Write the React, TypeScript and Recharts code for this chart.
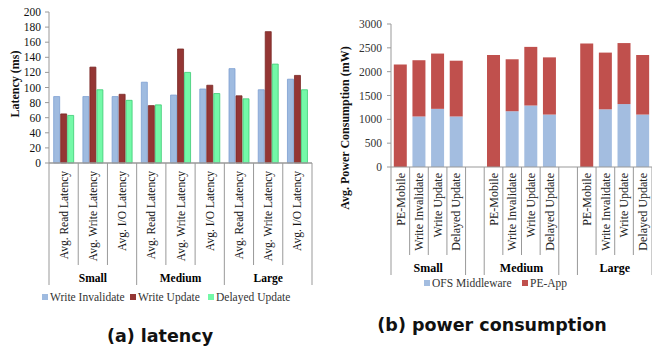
import React from "react";
import { BarChart, Bar, XAxis, YAxis, Label } from "recharts";

const FILE_SIZES = ["Small", "Medium", "Large"];

// (a) latency, ms
const LATENCY_METRICS = ["Avg. Read Latency", "Avg. Write Latency", "Avg. I/O Latency"];
const WRITE_INVALIDATE = [88, 88, 88, 107, 90, 98, 125, 97, 111];
const WRITE_UPDATE = [65, 127, 91, 76, 151, 103, 89, 174, 116];
const DELAYED_UPDATE = [63, 97, 83, 77, 120, 92, 85, 131, 97];
const LATENCY_TICKS = [0, 20, 40, 60, 80, 100, 120, 140, 160, 180, 200];

// (b) power consumption, mW
const POWER_SCHEMES = ["PE-Mobile", "Write Invalidate", "Write Update", "Delayed Update"];
const OFS_MIDDLEWARE = [0, 1060, 1220, 1060, 0, 1170, 1290, 1100, 0, 1210, 1320, 1100];
const PE_APP = [2150, 1180, 1160, 1170, 2350, 1090, 1230, 1200, 2590, 1190, 1280, 1250];
const POWER_TICKS = [0, 500, 1000, 1500, 2000, 2500, 3000];

const SERIF = "'Liberation Serif', 'Times New Roman', serif";
const AXIS_GREY = "#999999";

type Row = { key: string; size: string; label: string; [k: string]: any };

const latencyRows: Row[] = FILE_SIZES.flatMap((size, g) =>
  LATENCY_METRICS.map((metric, j) => ({
    key: `${size}|${metric}`,
    size,
    label: metric,
    wi: WRITE_INVALIDATE[g * 3 + j],
    wu: WRITE_UPDATE[g * 3 + j],
    du: DELAYED_UPDATE[g * 3 + j]
  }))
);

// blank category between the size groups, as in the original sheet
const powerRows: Row[] = FILE_SIZES.flatMap((size, g) => {
  const rows: Row[] = POWER_SCHEMES.map((scheme, j) => ({
    key: `${size}|${scheme}`,
    size,
    label: scheme,
    ofs: OFS_MIDDLEWARE[g * 4 + j],
    app: PE_APP[g * 4 + j]
  }));
  if (g < FILE_SIZES.length - 1) rows.push({ key: `gap${g}`, size: "", label: "" });
  return rows;
});

type TickOpts = {
  band: number;
  axisY: number;
  short: number;
  tall: number;
  labelGap: number;
  groupY: number;
  fontSize: number;
  color: string;
};

// two-level category axis: rotated item labels + size group labels with dividers
const groupedTick = (rows: Row[], o: TickOpts) => (props: any) => {
  const { x, index } = props;
  const row = rows[index];
  if (!row) return <g />;
  const half = o.band / 2;
  const left = x - half;
  const right = x + half;
  const startsGroup = index === 0 || rows[index - 1].size !== row.size;
  const isLast = index === rows.length - 1;

  let groupLabel = null;
  if (startsGroup && row.size) {
    let n = 0;
    while (index + n < rows.length && rows[index + n].size === row.size) n++;
    groupLabel = (
      <text
        x={left + (n * o.band) / 2}
        y={o.groupY}
        dy="0.35em"
        textAnchor="middle"
        style={{ fontFamily: SERIF }}
        fontWeight="bold"
        fontSize={o.fontSize}
        fill="#000"
      >
        {row.size}
      </text>
    );
  }

  return (
    <g>
      <line x1={left} x2={left} y1={o.axisY} y2={o.axisY + (startsGroup ? o.tall : o.short)} stroke={AXIS_GREY} />
      {isLast && <line x1={right} x2={right} y1={o.axisY} y2={o.axisY + o.tall} stroke={AXIS_GREY} />}
      {row.label && (
        <text
          transform={`translate(${x},${o.axisY + o.labelGap}) rotate(-90)`}
          dy="0.35em"
          textAnchor="end"
          style={{ fontFamily: SERIF }}
          fontSize={o.fontSize}
          fill={o.color}
        >
          {row.label}
        </text>
      )}
      {groupLabel}
    </g>
  );
};

const LegendItem = ({ left, top, color, text }: { left: number; top: number; color: string; text: string }) => (
  <div style={{ position: "absolute", left, top, display: "flex", alignItems: "center", whiteSpace: "nowrap" }}>
    <span style={{ width: 6, height: 6, background: color, marginRight: 2 }} />
    <span style={{ fontFamily: SERIF, fontSize: 11.5, color: "#333", lineHeight: "12px" }}>{text}</span>
  </div>
);

const Caption = ({ left, top, text }: { left: number; top: number; text: string }) => (
  <div
    style={{
      position: "absolute",
      left,
      top,
      width: 320,
      textAlign: "center",
      fontFamily: "'DejaVu Sans', sans-serif",
      fontWeight: "bold",
      fontSize: 17.5,
      lineHeight: "20px",
      color: "#111"
    }}
  >
    {text}
  </div>
);

// plot geometry
const A_W = 330, A_H = 300, A_TOP = 12, A_LEFT = 49, A_RIGHT = 18, A_PLOT_H = 151, A_BOTTOM = 15;
const B_W = 322, B_H = 300, B_TOP = 24, B_LEFT = 61, B_RIGHT = 0, B_PLOT_H = 143, B_BOTTOM = 25;

const App: React.FC = () => {
  const aBand = (A_W - A_LEFT - A_RIGHT) / latencyRows.length;
  const bBand = (B_W - B_LEFT - B_RIGHT) / powerRows.length;

  return (
    <div
      style={{
        position: "absolute",
        left: 0,
        top: 0,
        width: 652,
        height: 348,
        background: "#fff",
        overflow: "hidden",
        fontFamily: SERIF
      }}
    >
      {/* (a) LATENCY */}
      <div style={{ position: "absolute", left: 0, top: 0 }}>
        <BarChart
          width={A_W}
          height={A_H}
          data={latencyRows}
          margin={{ top: A_TOP, right: A_RIGHT, bottom: A_BOTTOM, left: 0 }}
          barCategoryGap="16%"
          barGap={1}
          style={{ fontFamily: SERIF }}
        >
          <XAxis
            dataKey="key"
            interval={0}
            height={A_H - A_TOP - A_BOTTOM - A_PLOT_H}
            tickLine={false}
            axisLine={{ stroke: AXIS_GREY, strokeWidth: 1.5 }}
            tick={groupedTick(latencyRows, {
              band: aBand,
              axisY: A_TOP + A_PLOT_H,
              short: 102,
              tall: 122,
              labelGap: 8,
              groupY: 278,
              fontSize: 11.5,
              color: "#111"
            })}
          />
          <YAxis
            width={A_LEFT}
            domain={[0, 200]}
            ticks={LATENCY_TICKS}
            interval={0}
            tickSize={4}
            tickMargin={4}
            axisLine={{ stroke: AXIS_GREY }}
            tickLine={{ stroke: AXIS_GREY }}
            tick={{ fontFamily: SERIF, fontSize: 11.5, fill: "#111", style: { fontFamily: SERIF } }}
          >
            <Label
              content={() => (
                <text
                  transform="translate(15,84) rotate(-90)"
                  dy="0.35em"
                  textAnchor="middle"
                  style={{ fontFamily: SERIF }}
                  fontWeight="bold"
                  fontSize={12}
                  fill="#111"
                >
                  Latency (ms)
                </text>
              )}
            />
          </YAxis>
          <Bar dataKey="wi" name="Write Invalidate" fill="#9fbbe0" stroke="#7d9fd2" strokeWidth={0.8} isAnimationActive={false} />
          <Bar dataKey="wu" name="Write Update" fill="#943634" stroke="#7a2826" strokeWidth={0.8} isAnimationActive={false} />
          <Bar dataKey="du" name="Delayed Update" fill="#74f9a8" stroke="#3ccc74" strokeWidth={0.8} isAnimationActive={false} />
        </BarChart>
      </div>
      <LegendItem left={42} top={291} color="#9fbbe0" text="Write Invalidate" />
      <LegendItem left={130} top={291} color="#943634" text="Write Update" />
      <LegendItem left={208} top={291} color="#74f9a8" text="Delayed Update" />
      <Caption left={0} top={326} text="(a) latency" />

      {/* (b) POWER CONSUMPTION */}
      <div style={{ position: "absolute", left: 330, top: 0 }}>
        <BarChart
          width={B_W}
          height={B_H}
          data={powerRows}
          margin={{ top: B_TOP, right: B_RIGHT, bottom: B_BOTTOM, left: 0 }}
          barCategoryGap="15%"
          style={{ fontFamily: SERIF }}
        >
          <XAxis
            dataKey="key"
            interval={0}
            height={B_H - B_TOP - B_BOTTOM - B_PLOT_H}
            tickLine={false}
            axisLine={{ stroke: AXIS_GREY }}
            tick={groupedTick(powerRows, {
              band: bBand,
              axisY: B_TOP + B_PLOT_H,
              short: 88,
              tall: 108,
              labelGap: 6,
              groupY: 268,
              fontSize: 12,
              color: "#222"
            })}
          />
          <YAxis
            width={B_LEFT}
            domain={[0, 3000]}
            ticks={POWER_TICKS}
            interval={0}
            tickSize={4}
            tickMargin={5}
            axisLine={{ stroke: AXIS_GREY }}
            tickLine={{ stroke: AXIS_GREY }}
            tick={{ fontFamily: SERIF, fontSize: 11.5, fill: "#333", style: { fontFamily: SERIF } }}
          >
            <Label
              content={() => (
                <text
                  transform="translate(15,128) rotate(-90)"
                  dy="0.35em"
                  textAnchor="middle"
                  style={{ fontFamily: SERIF }}
                  fontWeight="bold"
                  fontSize={12}
                  fill="#111"
                >
                  Avg. Power Consumption (mW)
                </text>
              )}
            />
          </YAxis>
          <Bar dataKey="ofs" name="OFS Middleware" stackId="p" fill="#a3bde0" isAnimationActive={false} />
          <Bar dataKey="app" name="PE-App" stackId="p" fill="#c0504d" isAnimationActive={false} />
        </BarChart>
      </div>
      <LegendItem left={424} top={277} color="#a3bde0" text="OFS Middleware" />
      <LegendItem left={522} top={277} color="#c0504d" text="PE-App" />
      <Caption left={332} top={315} text="(b) power consumption" />
    </div>
  );
};

export default App;
